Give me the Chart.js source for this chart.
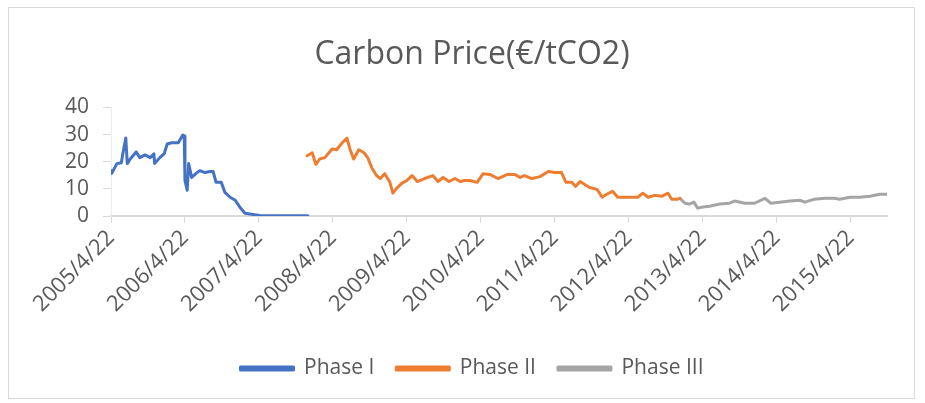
<!DOCTYPE html>
<html>
<head>
<meta charset="utf-8">
<script src="https://cdn.jsdelivr.net/npm/chart.js@4.4.0/dist/chart.umd.min.js"></script>
<style>
  body { margin: 0; background: #fff; }
  #chartBox { position: relative; width: 925px; height: 403px; }
</style>
</head>
<body>
<div id="chartBox"><canvas id="myChart" width="925" height="403"></canvas></div>
<script>
// x = years since 2005/4/22, y = price in EUR/tCO2
const xTickLabels = ['2005/4/22', '2006/4/22', '2007/4/22', '2008/4/22', '2009/4/22', '2010/4/22',
  '2011/4/22', '2012/4/22', '2013/4/22', '2014/4/22', '2015/4/22'];
const yTicks = [0, 10, 20, 30, 40];

const phase1X = [0.00, 0.01, 0.08, 0.14, 0.16, 0.20, 0.22, 0.26, 0.34, 0.39, 0.46, 0.53, 0.58, 0.59, 0.66,
  0.72, 0.76, 0.82, 0.91, 0.97, 0.99, 1.00, 1.03, 1.05, 1.09, 1.15, 1.20, 1.27, 1.34, 1.38, 1.42, 1.49,
  1.54, 1.61, 1.68, 1.74, 1.81, 1.88, 2.01, 2.22, 2.66];
const phase1Y = [16.7, 15.7, 19.3, 19.6, 22.9, 28.7, 19.3, 21.0, 23.6, 21.5, 22.5, 21.5, 22.9, 19.3, 21.5,
  23.0, 26.5, 27.0, 27.0, 29.8, 29.5, 13.0, 9.5, 19.3, 14.2, 15.7, 16.7, 16.0, 16.4, 16.4, 12.4, 12.4,
  8.7, 6.9, 5.8, 3.3, 1.0, 0.7, 0.2, 0.1, 0.05];

const phase2X = [2.65, 2.72, 2.77, 2.82, 2.89, 2.99, 3.05, 3.11, 3.19, 3.23, 3.28, 3.35, 3.42, 3.47, 3.53,
  3.59, 3.64, 3.70, 3.77, 3.81, 3.86, 3.93, 4.00, 4.07, 4.14, 4.24, 4.35, 4.42, 4.49, 4.57, 4.65, 4.72,
  4.78, 4.85, 4.95, 5.03, 5.12, 5.23, 5.36, 5.46, 5.53, 5.59, 5.69, 5.80, 5.91, 6.00, 6.09, 6.15, 6.23,
  6.28, 6.34, 6.47, 6.57, 6.64, 6.70, 6.78, 6.85, 6.95, 7.04, 7.12, 7.19, 7.26, 7.35, 7.45, 7.53, 7.58,
  7.66, 7.69];
const phase2Y = [22.2, 23.3, 19.0, 21.0, 21.5, 24.7, 24.4, 26.5, 28.7, 24.7, 21.0, 24.4, 23.3, 21.5, 17.5,
  14.9, 13.8, 15.6, 12.4, 8.4, 10.2, 12.0, 13.1, 14.9, 12.7, 13.8, 14.9, 12.7, 14.2, 12.7, 13.8, 12.7,
  13.1, 13.1, 12.4, 15.6, 15.3, 13.8, 15.3, 15.3, 14.2, 14.9, 13.8, 14.5, 16.4, 16.0, 16.0, 12.4, 12.4,
  10.9, 12.7, 10.5, 9.8, 6.9, 8.0, 9.1, 6.9, 6.9, 6.9, 6.9, 8.4, 6.9, 7.6, 7.3, 8.4, 6.2,
  6.2, 6.5];

const phase3X = [7.69, 7.76, 7.82, 7.88, 7.93, 8.00, 8.09, 8.23, 8.36, 8.43, 8.57, 8.70, 8.84, 8.92, 9.04,
  9.18, 9.31, 9.38, 9.51, 9.65, 9.78, 9.85, 9.99, 10.12, 10.26, 10.39, 10.49];
const phase3Y = [6.5, 4.7, 4.4, 5.1, 2.9, 3.3, 3.6, 4.4, 4.7, 5.5, 4.7, 4.7, 6.5, 4.7, 5.1,
  5.5, 5.8, 5.1, 6.2, 6.5, 6.5, 6.2, 6.9, 6.9, 7.3, 8.0, 8.0];

function toPoints(xs, ys) {
  return xs.map(function (x, i) { return { x: x, y: ys[i] }; });
}

const textColor = '#595959';
const lineGray = '#d9d9d9';
const fontName = "'Open Sans', sans-serif";

// light frame around the whole chart, like the office chart border
const framePlugin = {
  id: 'frame',
  beforeDraw: function (chart) {
    const ctx = chart.ctx;
    ctx.save();
    ctx.fillStyle = '#ffffff';
    ctx.fillRect(0, 0, chart.width, chart.height);
    ctx.strokeStyle = lineGray;
    ctx.lineWidth = 1;
    ctx.strokeRect(8.5, 7.5, 906, 391);
    ctx.restore();
  }
};

const myChartElem = document.getElementById('myChart').getContext('2d');
const myChart = new Chart(myChartElem, {
  type: 'line',
  data: {
    datasets: [
      { label: 'Phase I', data: toPoints(phase1X, phase1Y), borderColor: '#4472C4', backgroundColor: '#4472C4' },
      { label: 'Phase II', data: toPoints(phase2X, phase2Y), borderColor: '#ED7D31', backgroundColor: '#ED7D31' },
      { label: 'Phase III', data: toPoints(phase3X, phase3Y), borderColor: '#A5A5A5', backgroundColor: '#A5A5A5' }
    ]
  },
  options: {
    responsive: false,
    animation: false,
    elements: {
      point: { radius: 0 },
      line: { borderWidth: 3, tension: 0, borderJoinStyle: 'round', borderCapStyle: 'round' }
    },
    layout: { padding: { left: 19, right: 0, top: 0, bottom: 14 } },
    plugins: {
      title: {
        display: true,
        text: 'Carbon Price(€/tCO2)',
        color: textColor,
        font: { family: fontName, size: 32, weight: 'normal' },
        padding: { top: 36, bottom: 33 }
      },
      legend: {
        position: 'bottom',
        labels: {
          color: textColor,
          font: { family: fontName, size: 21 },
          boxWidth: 53,
          boxHeight: 3,
          padding: 22
        }
      },
      tooltip: { enabled: false }
    },
    scales: {
      x: {
        type: 'linear',
        min: 0,
        max: 10.49,
        afterBuildTicks: function (scale) {
          scale.ticks = xTickLabels.map(function (lbl, i) { return { value: i }; });
        },
        afterFit: function (scale) { scale.height = 120; },
        ticks: {
          autoSkip: false,
          minRotation: 45,
          maxRotation: 45,
          padding: 2,
          color: textColor,
          font: { family: fontName, size: 22 },
          callback: function (v) { return xTickLabels[v]; }
        },
        grid: { drawOnChartArea: false, color: lineGray, tickLength: 7, lineWidth: 1 },
        border: { color: lineGray, width: 2 }
      },
      y: {
        min: 0,
        max: 40,
        afterBuildTicks: function (scale) {
          scale.ticks = yTicks.map(function (v) { return { value: v }; });
        },
        afterFit: function (scale) { scale.width = 92; },
        ticks: {
          autoSkip: false,
          padding: 14,
          color: textColor,
          font: { family: fontName, size: 21 }
        },
        grid: { drawOnChartArea: false, color: lineGray, tickLength: 8 },
        border: { color: '#ececec', width: 1 }
      },
      // empty right-hand box so the title and legend centre like the original
      ySpace: {
        position: 'right',
        min: 0,
        max: 40,
        afterFit: function (scale) { scale.width = 38; },
        ticks: { display: false },
        grid: { display: false },
        border: { display: false }
      }
    }
  },
  plugins: [framePlugin]
});
</script>
</body>
</html>
